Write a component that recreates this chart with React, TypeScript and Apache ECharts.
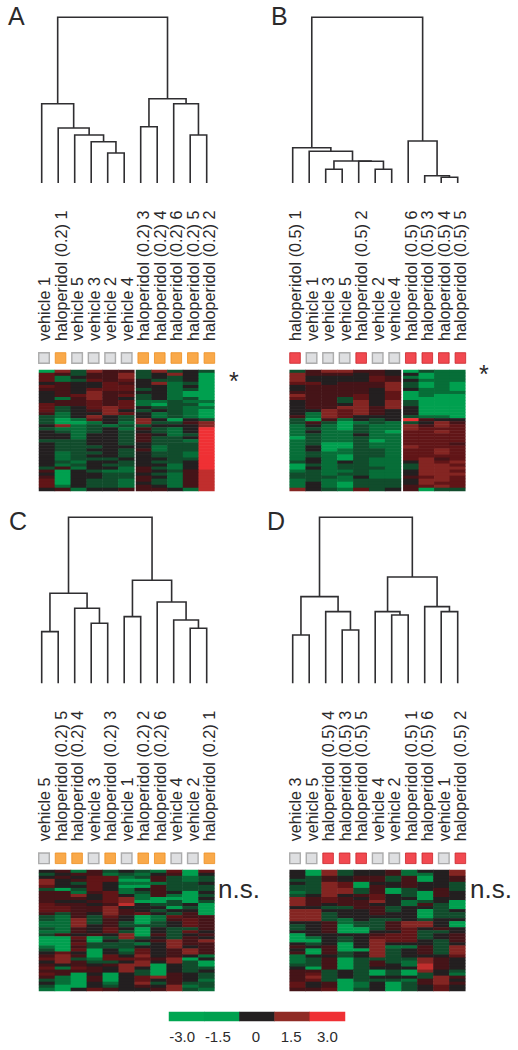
import React, { useEffect, useRef } from "react";
import * as echarts from "echarts";

const FONT = "Liberation Sans";
const INK = "#2b2a2b";

// ---------- sample labels, left to right ----------
const h2 = (n: number) => `haloperidol (0.2) ${n}`;
const h5 = (n: number) => `haloperidol (0.5) ${n}`;
const v = (n: number) => `vehicle ${n}`;
const labelsA = [v(1), h2(1), v(5), v(3), v(2), v(4), h2(3), h2(4), h2(6), h2(5), h2(2)];
const labelsB = [h5(1), v(1), v(3), v(5), h5(2), v(2), v(4), h5(6), h5(3), h5(4), h5(5)];
const labelsC = [v(5), h2(5), h2(4), v(3), h2(3), v(1), h2(2), h2(6), v(4), v(2), h2(1)];
const labelsD = [v(3), v(5), h5(4), h5(3), h5(5), v(4), v(2), h5(1), h5(6), v(1), h5(2)];

// ---------- dendrograms, hclust style: negative = leaf (1-based), positive = earlier merge (1-based), then height ----------
const mergesA = [[-5, -6, 30], [-4, 1, 41.3], [-3, 2, 48], [-2, 3, 55], [-1, 4, 79.3], [-7, -8, 56.3], [-10, -11, 48], [-9, 7, 79.3], [6, 8, 84.3], [5, 9, 165.7]];
const mergesB = [[-3, -4, 13.7], [-6, -7, 13.7], [-5, 2, 21.7], [1, 3, 22], [-2, 4, 31.7], [-1, 5, 35.3], [-10, -11, 5.7], [-9, 7, 7.3], [-8, 8, 42], [6, 9, 165.7]];
const mergesC = [[-1, -2, 51.7], [-4, -5, 60], [-3, 2, 75], [1, 3, 90], [-6, -7, 66.7], [-10, -11, 55], [-9, 6, 63.3], [-8, 7, 81.3], [5, 8, 103], [4, 9, 166]];
const mergesD = [[-1, -2, 48.3], [-4, -5, 53.3], [-3, 2, 71.7], [1, 3, 86.7], [-7, -8, 68.3], [-6, 5, 71.7], [-10, -11, 71.7], [-9, 7, 76.7], [6, 8, 106.3], [4, 9, 166]];

// ---------- heat maps: one string per row, one letter per sample ----------
const levels: Record<string, number> = { G: -1.5, g: -0.95, d: -0.55, k: 0, m: 0.5, r: 0.9, R: 1.35, e: 2.2, E: 3 };

const heatA = [
  "GRdRmm dRdkd", "rmdmmR dkRkG", "rgkmmR dkdkG", "rgdrmr kddkG", "kmkkrm kRgdG", "rmkkrr kkgkG", "mmkrrr dkgdG", "kmkRmm kkgGG",
  "kmrRmr dkgGG", "kgmRmk dkgdG", "kmmrmr ggdgg", "rmmrmr gGddG", "rdkrRr kddgg", "rdkmRk dkdgG", "mgkkRr kgdgG", "dgkRkd kgdgG",
  "dGgrkd RkGkd", "dGGgkg RddmR", "kRgdgd dkkkR", "dggdkg mdgkE", "kdgdkd kdgkE", "kkgkkd mkgdE", "kkgkkd mddkE", "dddkkd mddgE",
  "kddkkd kdddE", "kdddkk kgddE", "kddkkd mgddE", "kgddkd kddgE", "kgdkkd kddgE", "kgdddk kkddE", "kdgkkd kddkE", "kgdkdd kkgkE",
  "dmgkkg mdgkE", "mGkdgg mkdme", "kGkkdd kdgme", "mGkkdd mkgme", "rGkddg mdgme", "rGkddg kdgme", "rgkddg mkgme", "kmgkkm mmkge",
];
const heatB = [
  "dmRRmmk Gdgg", "Rmmmkmk kGgg", "Rkkkkrm gGgg", "Rkkkkrm kggg", "rrkmmmR dGgG", "kmmmmmR dGgG", "kmmmmkR kggG", "mmmmmkr Gggg",
  "Rmmmrkr GgGG", "rmmdrkr GGGG", "kmmdRkR dGGG", "kmmkRkR dGGG", "kmmRRmR kGGG", "kkRrRmk kGGG", "kgRrRmk kGGG", "mgRrkkk dggG",
  "dGmgkdk Emkk", "dmdGgdg dkRm", "gkgGdgg RmRr", "gdgGdgg Rrrr", "gkggdgG rrRr", "gdggkgg rrrr", "Gdggdgg rrrr", "gdggdGg rrrr",
  "gdGGdgg rrrm", "gkGGdgg Rrrr", "gkGgddg rrRr", "gdggddg rrRr", "gdgGddg rrrr", "gkgGdgg rRmr", "dkgkdgg kRrR", "Gdgddgg dRRr",
  "Gkgdddg dRRR", "gdggdgg kRRr", "ddgddgg kRRR", "dddgkgg mrRr", "gdggddd kRRr", "gkgGddd kRrr", "gkgGddd mrRr", "Rkdgrdk mGdd",
];
const heatC = [
  "kmgmdkdgrGr", "dkmmgdgkmGk", "kmkrrgdmdgd", "RkmrrGGmdgd", "Rkdrkgggddk", "rkkrkGGmddd", "dGdrkgkmddd", "mmgmrgdmkGk",
  "mmRkrkgmgGd", "mmmkrRgGGGk", "mkkmrRGGdGd", "rmmkmekddkG", "rrmmRkkkGdG", "rrmmRmkdkkG", "mdmkRmrkdmG", "dgmdrkGgrmm",
  "dgRdmkGgmrm", "ggRdmdGdkrm", "ggRkmdddkrm", "dgmkrkGkddm", "ggmkrdGkdrk", "dmkmkRGmdkm", "GGrGdRdkdmk", "GGmGkdkmRmR",
  "GGrdddgkRmm", "gGmdddkkRkm", "dGrGkgrkmRm", "krkGkdrkmRm", "mRmGrkRkmkg", "rRdgrrrmRGk", "kRmddkRkRdG", "mkmkmRRGkdG",
  "rgrmkRkGkdd", "mmmmkRdGkdk", "rmGkGkdGmkd", "mgGmGkrRmkd", "dgGmGkrkmkg", "kgGkgkRdmdd", "dGGkdkmkRgd", "gGkrmkkmRdg",
];
const heatD = [
  "kGRdkkmgkkR", "kGRdkkmggkR", "kdmkmmdmGkm", "ddmkmmdmGkm", "kdRrGkkmkkd", "ddRrGmkmkkd", "ddRRdmGdkmd", "gdRRdmGdGmk",
  "dkRkmrkdGmk", "RmrmkrkkGkk", "RmrmmRkgdkG", "RmkmmkkgmdG", "kkddmmdkkdG", "RRkkkmdkGdk", "RRdkkmkkGdd", "RRdkkkkkGdd",
  "RRdgkddkdkk", "kkmgddmRRkG", "dkmGddmRRkG", "dkmGGdmrkmk", "kkmGGkkrddk", "Gkkkkmrrdkm", "Ggkdkrrrdkm", "GGkdkRrrkdm",
  "kdkGkRkkkdk", "mkmGkRggmdR", "kGmGGRdkmdR", "mGmdkRdkmdR", "gkkdkRdkkkr", "gdmGddddRmk", "gdmGdmdgRmk", "ddmGdmkgemk",
  "kGmGdkkkemk", "mmdkdGdGRkd", "mrdkdGdGdkg", "mRdkdkkkdRm", "mrdGdddgmRk", "rkmGgkGdmRm", "rkmGgkGdkrk", "mmrGdkGdkrk",
];

// ---------- colour key ----------
const keyValues = [-3, -1.5, 0, 1.5, 3];
const keyLabels = ["-3.0", "-1.5", "0", "1.5", "3.0"];
const keyLabelNudge = [9, 8, 2, 2, 0];
const ramp = ["#00a651", "#00a651", "#00a04f", "#0a5c30", "#231f20", "#560f14", "#8f2b25", "#c42e2e", "#ef3034"];

const hidden = { show: false };

function buildOption() {
  const grid: any[] = [];
  const xAxis: any[] = [];
  const yAxis: any[] = [];
  const series: any[] = [];
  const heatSeries: number[] = [];

  const addGrid = (g: any, x: any, y: any) => {
    grid.push(g);
    xAxis.push({ gridIndex: grid.length - 1, ...x });
    yAxis.push({ gridIndex: grid.length - 1, ...y });
    return grid.length - 1;
  };

  const dendro = (merges: number[][], left: number, top: number) => {
    const idx = addGrid(
      { left, top, width: 181.5, height: 170 },
      { type: "value", min: -0.5, max: 10.5, ...hidden },
      { type: "value", min: 0, max: 170, ...hidden },
    );
    const nodes: { x: number; h: number }[] = [];
    const pick = (ref: number) => (ref < 0 ? { x: -ref - 1, h: 0 } : nodes[ref - 1]);
    const rows = merges.map(([a, b, h]) => {
      const l = pick(a);
      const r = pick(b);
      nodes.push({ x: (l.x + r.x) / 2, h });
      return [l.x, l.h, r.x, r.h, h];
    });
    series.push({
      type: "custom",
      xAxisIndex: idx,
      yAxisIndex: idx,
      coordinateSystem: "cartesian2d",
      silent: true,
      clip: false,
      encode: { x: [0, 2], y: [1, 3, 4] },
      data: rows,
      renderItem: (_: any, api: any) => {
        const pts = [
          api.coord([api.value(0), api.value(1)]),
          api.coord([api.value(0), api.value(4)]),
          api.coord([api.value(2), api.value(4)]),
          api.coord([api.value(2), api.value(3)]),
        ];
        return { type: "polyline", shape: { points: pts }, style: { stroke: "#2f2e31", lineWidth: 1.6, fill: "none" } };
      },
    });
  };

  const samples = (labels: string[], left: number, top: number, drugColor: string, drugEdge: string) => {
    const idx = addGrid(
      { left, top, width: 181.9, height: 13 },
      {
        type: "category",
        data: labels,
        position: "top",
        axisLine: { show: false },
        axisTick: { show: false },
        axisLabel: { rotate: 90, margin: 10.5, interval: 0, hideOverlap: false, fontSize: 16.2, fontFamily: FONT, color: INK },
      },
      { type: "value", min: -1, max: 1, ...hidden },
    );
    series.push({
      type: "scatter",
      xAxisIndex: idx,
      yAxisIndex: idx,
      symbol: "rect",
      symbolSize: 10.6,
      silent: true,
      data: labels.map((l, i) => ({
        value: [i, 0],
        itemStyle: l.startsWith("vehicle")
          ? { color: "#d6d7d9", borderColor: "#9b9b9b", borderWidth: 1.4 }
          : { color: drugColor, borderColor: drugEdge, borderWidth: 1 },
      })),
    });
  };

  const heat = (rows: string[], from: number, to: number, left: number, width: number, top: number) => {
    const cols = to - from;
    const idx = addGrid(
      { left, top, width, height: 121 },
      { type: "category", data: Array.from({ length: cols }, (_, i) => i), ...hidden },
      { type: "category", inverse: true, data: rows.map((_, i) => i), ...hidden },
    );
    const data: number[][] = [];
    rows.forEach((row, r) => {
      const cells = row.replace(" ", "");
      for (let c = from; c < to; c++) data.push([c - from, r, levels[cells[c]]]);
    });
    heatSeries.push(series.length);
    series.push({ type: "heatmap", xAxisIndex: idx, yAxisIndex: idx, silent: true, data, itemStyle: { borderWidth: 0 } });
  };

  dendro(mergesA, 33.45, 13);
  dendro(mergesB, 284.45, 13);
  dendro(mergesC, 33.45, 513.3);
  dendro(mergesD, 284.45, 513.3);

  samples(labelsA, 35.75, 351.5, "#f7941d", "#ec8f20");
  samples(labelsB, 286.75, 351.5, "#ed1c24", "#c9252b");
  samples(labelsC, 35.75, 851.8, "#f7941d", "#ec8f20");
  samples(labelsD, 286.75, 851.8, "#ed1c24", "#c9252b");

  heat(heatA, 0, 6, 39, 95.3, 370);
  heat(heatA, 6, 11, 136, 78.4, 370);
  heat(heatB, 0, 7, 289.7, 111.3, 370);
  heat(heatB, 7, 11, 403.3, 62, 370);
  heat(heatC, 0, 11, 39, 175.4, 870);
  heat(heatD, 0, 11, 289.7, 175.6, 870);

  // colour key
  const keyIdx = addGrid(
    { left: 169, top: 1012, width: 176, height: 9 },
    {
      type: "category",
      data: keyLabels.map((value, i) => ({ value, textStyle: { padding: [0, keyLabelNudge[i], 0, 0] } })),
      axisLine: { show: false },
      axisTick: { show: false },
      axisLabel: { margin: 8, interval: 0, fontSize: 15, fontFamily: FONT, color: INK },
    },
    { type: "category", data: ["key"], ...hidden },
  );
  heatSeries.push(series.length);
  series.push({
    type: "heatmap",
    xAxisIndex: keyIdx,
    yAxisIndex: keyIdx,
    silent: true,
    data: keyValues.map((value, i) => [i, 0, value]),
  });

  const text = (t: string, x: number, y: number, fontSize: number) => ({
    type: "text",
    x,
    y,
    silent: true,
    style: { text: t, fontFamily: FONT, fontSize, fill: "#2b2a2b", verticalAlign: "middle" },
  });

  return {
    animation: false,
    backgroundColor: "#ffffff",
    tooltip: { show: false },
    grid,
    xAxis,
    yAxis,
    series,
    visualMap: [
      { type: "continuous", show: false, min: -3, max: 3, seriesIndex: heatSeries, inRange: { color: ramp } },
    ],
    graphic: [
      text("A", 8, 16, 25),
      text("B", 271, 16, 25),
      text("C", 9, 521, 25),
      text("D", 267, 521, 25),
      text("*", 229, 381, 25),
      text("*", 479, 373.5, 25),
      text("n.s.", 218, 889, 26),
      text("n.s.", 470, 889, 26),
    ],
  };
}

export default function App() {
  const ref = useRef<HTMLDivElement>(null);
  useEffect(() => {
    document.body.style.margin = "0";
    const chart = echarts.init(ref.current!, undefined, { renderer: "svg" });
    chart.setOption(buildOption() as any);
    return () => chart.dispose();
  }, []);
  return <div ref={ref} style={{ width: 518, height: 1050 }} />;
}
